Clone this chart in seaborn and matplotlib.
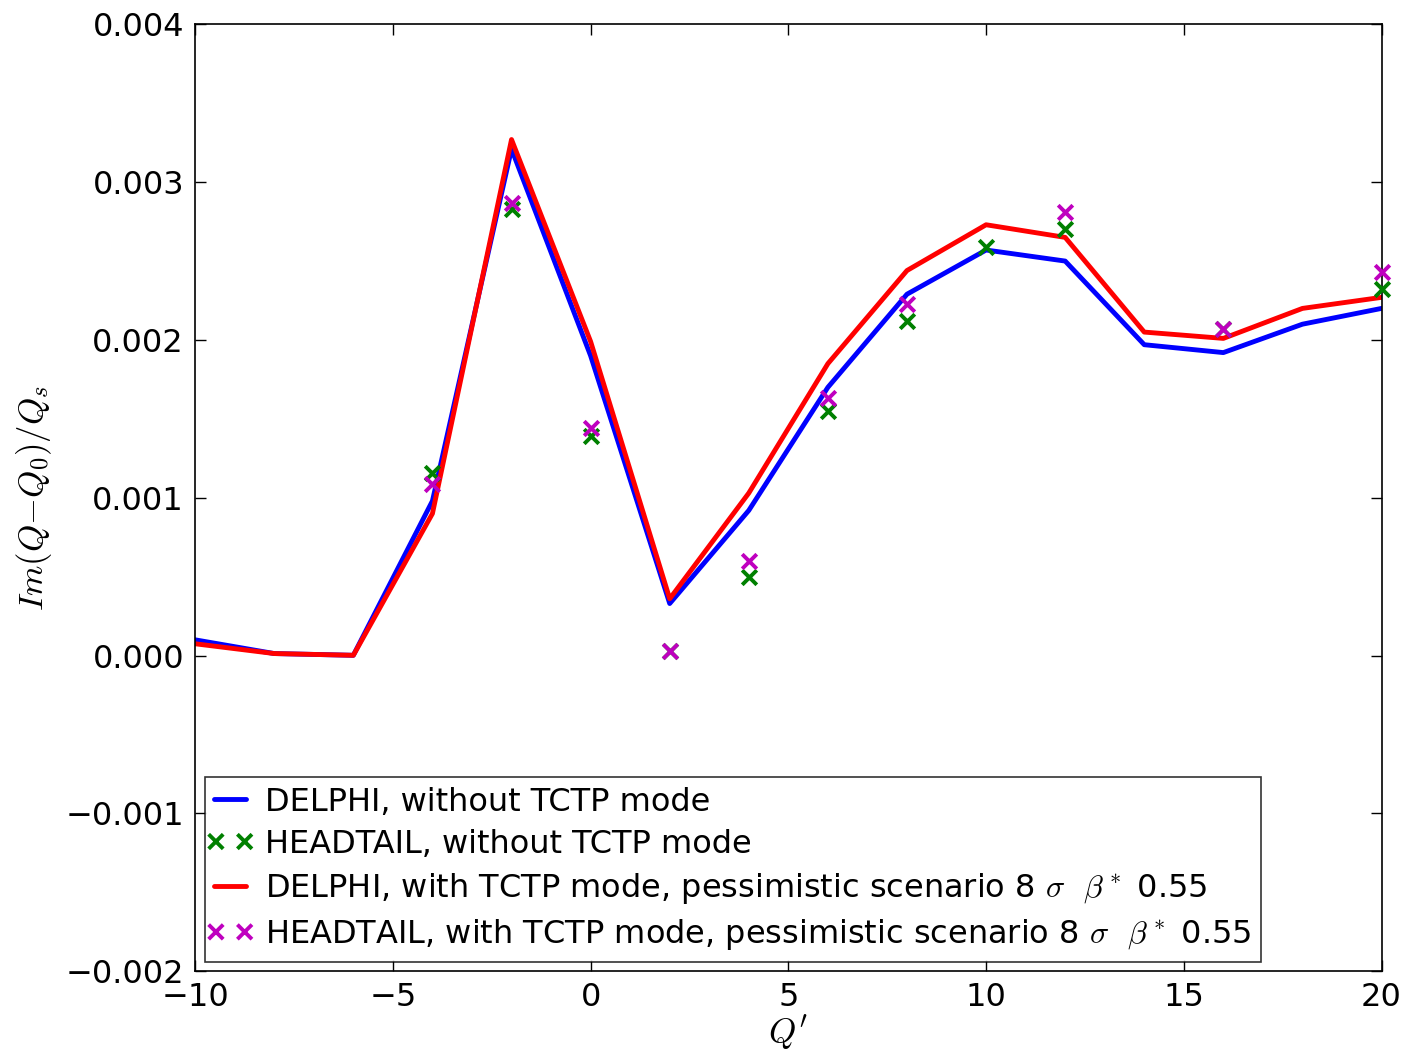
import numpy as np
import pandas as pd
import matplotlib
matplotlib.use("Agg")
import matplotlib.pyplot as plt
import seaborn as sns
from matplotlib.ticker import FuncFormatter
from matplotlib.collections import PathCollection
from matplotlib.legend_handler import HandlerPathCollection

# ---- data ----
q_line = [-10, -8, -6, -4, -2, 0, 2, 4, 6, 8, 10, 12, 14, 16, 18, 20]
delphi_without = [0.0001, 0.000013, 0.000002, 0.00098, 0.00321, 0.00190, 0.00033,
                  0.00092, 0.00170, 0.00229, 0.00257, 0.00250, 0.00197, 0.00192,
                  0.00210, 0.00220]
delphi_with = [0.000075, 0.000013, 0.000002, 0.00090, 0.00327, 0.00199, 0.00036,
               0.00103, 0.00185, 0.00244, 0.00273, 0.00265, 0.00205, 0.00201,
               0.00220, 0.00227]

q_ht_without = [-4, -2, 0, 2, 4, 6, 8, 10, 12, 16, 20]
ht_without = [0.00116, 0.00283, 0.00139, 0.00003, 0.00050, 0.00155, 0.00212,
              0.00259, 0.00270, 0.00207, 0.00232]
q_ht_with = [-4, -2, 0, 2, 4, 6, 8, 12, 16, 20]
ht_with = [0.00109, 0.002865, 0.00144, 0.00003, 0.00060, 0.00163, 0.00223,
           0.00281, 0.00207, 0.00243]

labels = ["DELPHI, without TCTP mode",
          "HEADTAIL, without TCTP mode",
          r"DELPHI, with TCTP mode, pessimistic scenario 8 $\sigma$  $\beta^*$ 0.55",
          r"HEADTAIL, with TCTP mode, pessimistic scenario 8 $\sigma$  $\beta^*$ 0.55"]

sns.set_style("white")
plt.rcParams['font.family'] = ['DejaVu Sans']
plt.rcParams['mathtext.fontset'] = 'cm'
for k in ['text.color', 'axes.labelcolor', 'xtick.color', 'ytick.color']:
    plt.rcParams[k] = 'black'

fig = plt.figure(figsize=(14.04, 10.58), dpi=100)
ax = fig.add_axes([0.139, 0.082, 0.845, 0.895])

df1 = pd.DataFrame({"q": q_line, "v": delphi_without})
df2 = pd.DataFrame({"q": q_line, "v": delphi_with})
df3 = pd.DataFrame({"q": q_ht_without, "v": ht_without})
df4 = pd.DataFrame({"q": q_ht_with, "v": ht_with})

sns.lineplot(data=df1, x="q", y="v", ax=ax, color=(0, 0, 1), lw=3.5,
             label=labels[0], estimator=None, sort=False)
sns.scatterplot(data=df3, x="q", y="v", ax=ax, color=(0, 0.5, 0), marker="x",
                s=110, linewidth=2.8, label=labels[1], zorder=3, clip_on=False)
sns.lineplot(data=df2, x="q", y="v", ax=ax, color=(1, 0, 0), lw=3.5,
             label=labels[2], estimator=None, sort=False)
sns.scatterplot(data=df4, x="q", y="v", ax=ax, color=(0.75, 0, 0.75), marker="x",
                s=110, linewidth=2.8, label=labels[3], zorder=4, clip_on=False)

ax.set_xlim(-10, 20)
ax.set_ylim(-0.002, 0.004)
ax.set_xticks([-10, -5, 0, 5, 10, 15, 20])
ax.set_yticks([-0.002, -0.001, 0, 0.001, 0.002, 0.003, 0.004])
ax.yaxis.set_major_formatter(FuncFormatter(lambda v, p: f"{v:.3f}".replace("-", "\u2212")))
ax.xaxis.set_major_formatter(FuncFormatter(lambda v, p: f"{v:.0f}".replace("-", "\u2212")))
ax.tick_params(direction="in", length=8, width=1, labelsize=23, top=True, right=True,
               bottom=True, left=True, pad=8, colors="black")
for s in ax.spines.values():
    s.set_color("black")
    s.set_linewidth(1.2)

ax.set_xlabel(r"$Q'$", fontsize=25, labelpad=0)
ax.set_ylabel(r"$Im(Q{-}Q_0)/Q_s$", fontsize=25, labelpad=8)

leg = ax.legend(loc="lower left", bbox_to_anchor=(0.0, 0.0), fontsize=23,
                frameon=True, fancybox=False, handlelength=1.0, handletextpad=0.6,
                borderpad=0.3, labelspacing=0.35, scatterpoints=2,
                scatteryoffsets=[0.5], borderaxespad=0.3,
                handler_map={PathCollection: HandlerPathCollection(marker_pad=0.05)})
leg.get_frame().set_edgecolor("black")
leg.get_frame().set_linewidth(1.2)

fig.savefig("out.png", dpi=100, facecolor="white")
